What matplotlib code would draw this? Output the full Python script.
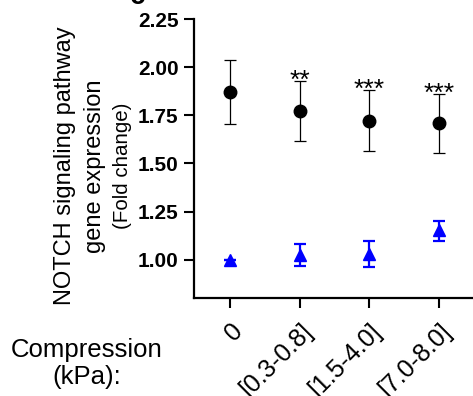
import matplotlib
matplotlib.use('Agg')
import matplotlib.pyplot as plt
import numpy as np

plt.rcParams['font.family'] = ['Liberation Sans', 'DejaVu Sans']

categorias = ['0', '[0.3-0.8]', '[1.5-4.0]', '[7.0-8.0]']

# NOTCH (pretos)
notch_media = [1.872, 1.771, 1.722, 1.708]
notch_sup = [2.040, 1.927, 1.880, 1.859]
notch_inf = [1.707, 1.616, 1.566, 1.556]
asteriscos = ['', '**', '***', '***']

# controle (triangulos azuis)
azul_media = [1.000, 1.025, 1.030, 1.152]
azul_sup = [1.000, 1.083, 1.095, 1.202]
azul_inf = [1.000, 0.964, 0.960, 1.094]

y_ticks = [1.00, 1.25, 1.50, 1.75, 2.00, 2.25]


def grafico_notch():
    x = np.arange(len(categorias))
    fig = plt.figure(figsize=(4.73, 3.96), dpi=100)
    ax = fig.add_axes([194 / 473, 98 / 396, 280 / 473, (396 - 19.3 - 98) / 396])

    m = np.array(notch_media)
    err = [m - np.array(notch_inf), np.array(notch_sup) - m]
    ax.errorbar(x, m, yerr=err, fmt='o', color='black', ecolor='black',
                markersize=9, elinewidth=0.9, capsize=4, capthick=0.9,
                clip_on=False, zorder=3)

    a = np.array(azul_media)
    err_a = [a - np.array(azul_inf), np.array(azul_sup) - a]
    ax.errorbar(x, a, yerr=err_a, fmt='^', color='#0000ff', ecolor='#0000ff',
                markersize=9, elinewidth=1.6, capsize=4.3, capthick=1.6,
                clip_on=False, zorder=3)

    for xi, yi, s in zip(x, notch_sup, asteriscos):
        if s:
            ax.annotate(s, xy=(xi, yi), xytext=(0, -4.5), textcoords='offset points',
                        ha='center', va='baseline', fontsize=19)

    ax.set_xlim(-0.518, 3.5)
    ax.set_ylim(0.8, 2.25)
    ax.set_yticks(y_ticks)
    ax.set_yticklabels(['%.2f' % v for v in y_ticks], fontsize=15, fontweight='bold')
    ax.set_xticks(x)
    ax.set_xticklabels(categorias, fontsize=18, rotation=45, ha='right',
                       va='top', rotation_mode='anchor')
    ax.tick_params(axis='both', length=7, width=1.5, pad=4)
    ax.tick_params(axis='x', pad=8)
    for lado in ['top', 'right']:
        ax.spines[lado].set_visible(False)
    for lado in ['left', 'bottom']:
        ax.spines[lado].set_linewidth(1.6)

    fig.text(65 / 473, 0.581, 'NOTCH signaling pathway', rotation=90,
             ha='center', va='center', fontsize=17)
    fig.text(95 / 473, 0.581, 'gene expression', rotation=90,
             ha='center', va='center', fontsize=17)
    fig.text(122.5 / 473, 0.581, '(Fold change)', rotation=90,
             ha='center', va='center', fontsize=14.8)
    fig.text(87 / 473, 0.083, 'Compression\n(kPa):', ha='center', va='center',
             multialignment='center', fontsize=18.5, linespacing=1.15)
    fig.text(130 / 473, 0.99, 'c', ha='left', va='baseline', fontsize=20,
             fontweight='bold')

    fig.savefig('out.png', dpi=100)


if __name__ == "__main__":
    grafico_notch()
